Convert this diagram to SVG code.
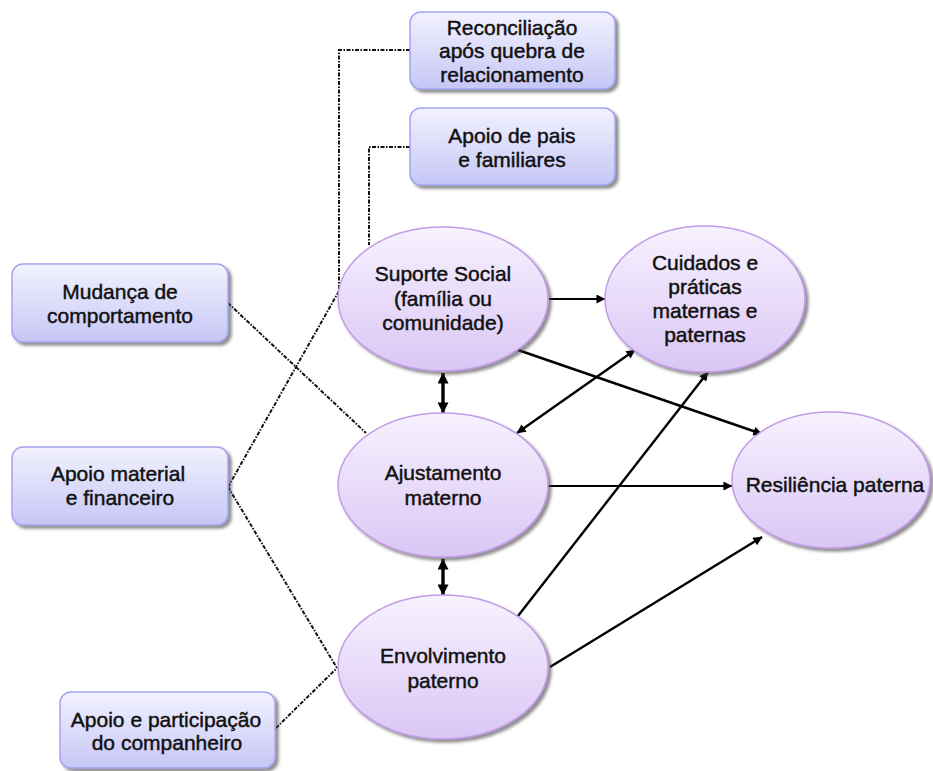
<svg xmlns="http://www.w3.org/2000/svg" width="933" height="771" viewBox="0 0 933 771">
<style>
  .t { font-family: "Liberation Sans", Arial, sans-serif; font-size: 21px; fill: #111; stroke: #111; stroke-width: 0.45; text-anchor: middle; }
  .box { fill: url(#gBox); stroke: #a4a4ee; stroke-width: 1.5; filter: url(#sh); }
  .ell { fill: url(#gEll); stroke: #c39be8; stroke-width: 1.5; filter: url(#sh); }
  .a { fill: none; stroke: #000; stroke-width: 2.4; }
  .thin { stroke-width: 1.8; }
  .thick { stroke-width: 3.4; }
  .dot { fill: none; stroke: #111; stroke-width: 2; stroke-dasharray: 4 1.5 1.5 1.5; }
</style>
<defs>
  <linearGradient id="gBox" x1="0" y1="0" x2="0" y2="1">
    <stop offset="0" stop-color="#f2f2ff"/>
    <stop offset="1" stop-color="#c6c6f6"/>
  </linearGradient>
  <linearGradient id="gEll" x1="0" y1="0" x2="0" y2="1">
    <stop offset="0" stop-color="#f7f2fe"/>
    <stop offset="1" stop-color="#dac6f5"/>
  </linearGradient>
  <filter id="sh" x="-10%" y="-10%" width="130%" height="130%">
    <feDropShadow dx="3" dy="3" stdDeviation="1.5" flood-color="#444" flood-opacity="0.6"/>
  </filter>
  <marker id="arr" viewBox="0 0 10 10" refX="9.5" refY="5" markerWidth="11" markerHeight="9" markerUnits="userSpaceOnUse" orient="auto-start-reverse">
    <path d="M0,0 L10,5 L0,10 z" fill="#000"/>
  </marker>
  <marker id="arrB" viewBox="0 0 10 10" refX="9.5" refY="5" markerWidth="12" markerHeight="11" markerUnits="userSpaceOnUse" orient="auto-start-reverse">
    <path d="M0,0 L10,5 L0,10 z" fill="#000"/>
  </marker>
</defs>

<g id="connectors">
  <polyline class="dot" points="410,50 339,50 339,291"/>
  <polyline class="dot" points="410,147 369,147 369,245"/>
  <line class="dot" x1="228" y1="303" x2="366" y2="433"/>
  <line class="dot" x1="228" y1="487" x2="339" y2="291"/>
  <line class="dot" x1="228" y1="487" x2="337" y2="668"/>
  <line class="dot" x1="276" y1="728" x2="337" y2="668"/>

  <line class="a thin" x1="549" y1="299" x2="605" y2="299" marker-end="url(#arr)"/>
  <line class="a thick" x1="443" y1="373" x2="443" y2="413" marker-start="url(#arrB)" marker-end="url(#arrB)"/>
  <line class="a thick" x1="443" y1="559" x2="443" y2="595" marker-start="url(#arrB)" marker-end="url(#arrB)"/>
  <line class="a" x1="518" y1="350" x2="762" y2="434" marker-end="url(#arr)"/>
  <line class="a" x1="517" y1="433" x2="635" y2="350" marker-start="url(#arr)" marker-end="url(#arr)"/>
  <line class="a thin" x1="548" y1="486" x2="732" y2="486" marker-end="url(#arr)"/>
  <line class="a" x1="518" y1="616" x2="708" y2="372" marker-end="url(#arr)"/>
  <line class="a" x1="550" y1="667" x2="762" y2="537" marker-end="url(#arr)"/>
</g>

<g id="reconciliacao">
  <rect class="box" x="410" y="12" width="205" height="77" rx="11"/>
  <text class="t" x="512" y="35">Reconciliação</text>
  <text class="t" x="512" y="58">após quebra de</text>
  <text class="t" x="512" y="82">relacionamento</text>
</g>
<g id="apoio-pais">
  <rect class="box" x="410" y="108" width="205" height="77" rx="11"/>
  <text class="t" x="512" y="143">Apoio de pais</text>
  <text class="t" x="512" y="167">e familiares</text>
</g>
<g id="mudanca">
  <rect class="box" x="12" y="264" width="216" height="78" rx="11"/>
  <text class="t" x="120" y="299">Mudança de</text>
  <text class="t" x="120" y="323">comportamento</text>
</g>
<g id="apoio-material">
  <rect class="box" x="12" y="447" width="216" height="78" rx="11"/>
  <text class="t" x="118" y="481">Apoio material</text>
  <text class="t" x="120" y="505">e financeiro</text>
</g>
<g id="apoio-companheiro">
  <rect class="box" x="60" y="692" width="215" height="76" rx="11"/>
  <text class="t" x="166" y="727">Apoio e participação</text>
  <text class="t" x="167" y="750">do companheiro</text>
</g>

<g id="suporte">
  <ellipse class="ell" cx="443" cy="299" rx="105" ry="72"/>
  <text class="t" x="443" y="281">Suporte Social</text>
  <text class="t" x="443" y="306">(família ou</text>
  <text class="t" x="443" y="330">comunidade)</text>
</g>
<g id="cuidados">
  <ellipse class="ell" cx="705" cy="299" rx="100" ry="73"/>
  <text class="t" x="705" y="270">Cuidados e</text>
  <text class="t" x="705" y="294">práticas</text>
  <text class="t" x="705" y="318">maternas e</text>
  <text class="t" x="705" y="342">paternas</text>
</g>
<g id="ajustamento">
  <ellipse class="ell" cx="443" cy="485" rx="105" ry="72"/>
  <text class="t" x="443" y="480">Ajustamento</text>
  <text class="t" x="443" y="505">materno</text>
</g>
<g id="envolvimento">
  <ellipse class="ell" cx="443" cy="667" rx="105" ry="72"/>
  <text class="t" x="443" y="663">Envolvimento</text>
  <text class="t" x="443" y="688">paterno</text>
</g>
<g id="resiliencia">
  <ellipse class="ell" cx="831" cy="480" rx="99" ry="68"/>
  <text class="t" x="835" y="492">Resiliência paterna</text>
</g>
</svg>
